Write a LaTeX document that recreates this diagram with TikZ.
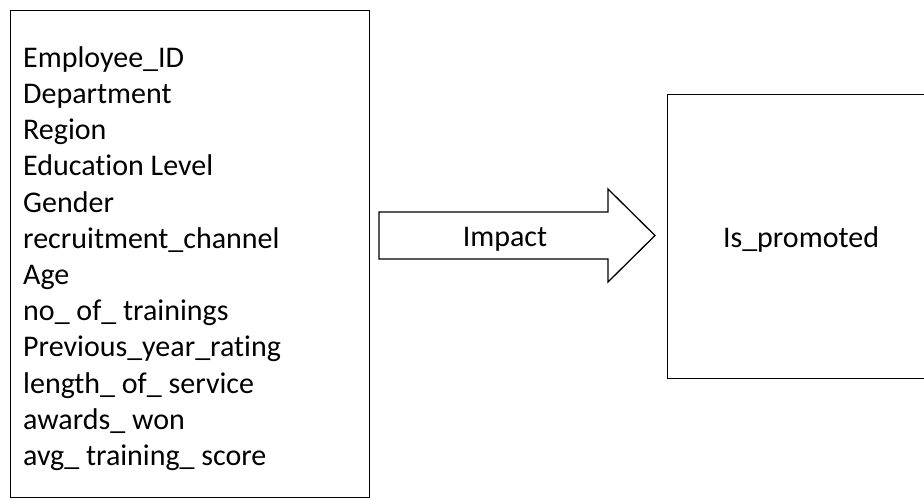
\documentclass[tikz,border=0pt]{standalone}
\usepackage{fontspec}
\setmainfont{Carlito}[Ligatures=NoCommon]
\begin{document}
\begin{tikzpicture}[x=1pt,y=-1pt,
  box/.style={draw=black, line width=1.3pt, fill=white},
  lbl/.style={font=\fontsize{30}{36.2}\selectfont, inner sep=0pt}]
\useasboundingbox (0,0) rectangle (924,499);
\node[box, anchor=north west, minimum width=359pt, minimum height=487pt, inner sep=0pt] (inputs) at (10,10) {};
\node[lbl, anchor=west, align=left] (list) at (23,258.5) {Employee\_ID\\Department\\Region\\Education Level\\Gender\\recruitment\_channel\\Age\\no\_ of\_ trainings\\Previous\_year\_rating\\length\_ of\_ service\\awards\_ won\\avg\_ training\_ score};
\node[box, anchor=north west, minimum width=280pt, minimum height=284pt, inner sep=0pt] (target) at (667,94) {};
\node[lbl] (tlabel) at (801,239) {Is\_promoted};
\draw[box, line join=miter] (379,212) -- (608,212) -- (608,189) -- (655,235.5) -- (608,282) -- (608,259) -- (379,259) -- cycle;
\node[lbl] (impact) at (505,239) {Impact};
\end{tikzpicture}
\end{document}
